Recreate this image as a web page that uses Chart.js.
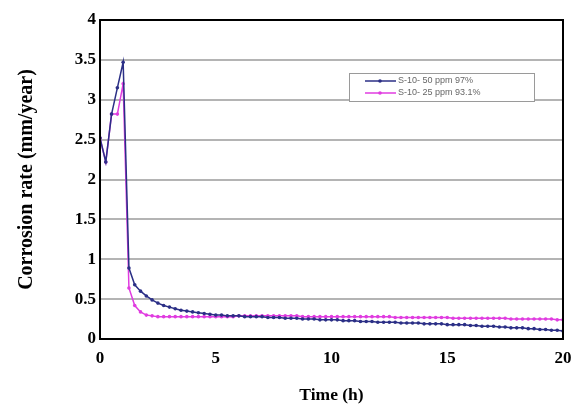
<!DOCTYPE html>
<html>
<head>
<meta charset="utf-8">
<script src="https://cdn.jsdelivr.net/npm/chart.js@4"></script>
<style>
html,body{margin:0;padding:0;background:#fff;}
#wrap{width:572px;height:407px;position:relative;}
</style>
</head>
<body>
<div id="wrap"><canvas id="c" width="572" height="407"></canvas></div>
<script>
const timeH = [0,0.25,0.5,0.75,1,1.25,1.5,1.75,2,2.25,2.5,2.75,3,3.25,3.5,3.75,4,4.25,4.5,4.75,5,
5.25,5.5,5.75,6,6.25,6.5,6.75,7,7.25,7.5,7.75,8,
8.25,8.5,8.75,9,9.25,9.5,9.75,10,10.25,10.5,10.75,11,11.25,11.5,11.75,12,
12.25,12.5,12.75,13,13.25,13.5,13.75,14,14.25,14.5,14.75,15,15.25,15.5,15.75,16,
16.25,16.5,16.75,17,17.25,17.5,17.75,18,18.25,18.5,18.75,19,19.25,19.5,19.75,20];

const s50 = [2.52,2.22,2.82,3.15,3.47,0.89,0.68,0.60,0.54,0.49,0.45,0.42,0.40,0.38,0.36,0.35,0.34,0.33,0.32,0.31,0.30,
0.30,0.29,0.29,0.29,0.28,0.28,0.28,0.28,0.27,0.27,0.27,0.26,
0.26,0.26,0.25,0.25,0.25,0.24,0.24,0.24,0.24,0.23,0.23,0.23,0.22,0.22,0.22,0.21,
0.21,0.21,0.21,0.20,0.20,0.20,0.20,0.19,0.19,0.19,0.19,0.18,0.18,0.18,0.18,0.17,
0.17,0.16,0.16,0.16,0.15,0.15,0.14,0.14,0.14,0.13,0.13,0.12,0.12,0.11,0.11,0.10];

const s25 = [2.52,2.22,2.82,2.82,3.20,0.64,0.42,0.34,0.30,0.29,0.28,0.28,0.28,
0.28,0.28,0.28,0.28,0.28,0.28,0.28,0.28,
0.28,0.28,0.28,0.29,0.29,0.29,0.29,0.29,0.29,0.29,0.29,0.29,
0.29,0.29,0.28,0.28,0.28,0.28,0.28,0.28,0.28,0.28,0.28,0.28,0.28,0.28,0.28,0.28,
0.28,0.28,0.27,0.27,0.27,0.27,0.27,0.27,0.27,0.27,0.27,0.27,0.26,0.26,0.26,0.26,
0.26,0.26,0.26,0.26,0.26,0.26,0.25,0.25,0.25,0.25,0.25,0.25,0.25,0.25,0.24,0.24];

const seriesLabels = ['S-10- 50 ppm 97%','S-10- 25 ppm 93.1%'];
const yTicks = [0,0.5,1,1.5,2,2.5,3,3.5,4];
const xTicks = [0,5,10,15,20];

const toXY = arr => arr.map((v,i)=>({x:timeH[i],y:v}));
const serif = '"Liberation Serif", "Times New Roman", serif';

const frame = {
  id:'frame',
  afterDraw(chart){
    const {ctx, chartArea:a} = chart;
    ctx.save();
    ctx.strokeStyle='#000';
    ctx.lineWidth=2;
    ctx.strokeRect(a.left,a.top,a.right-a.left,a.bottom-a.top);
    // legend box
    const bx=349, by=73, bw=185, bh=28;
    ctx.fillStyle='#fff';
    ctx.fillRect(bx,by,bw,bh);
    ctx.strokeStyle='#9a9a9a';
    ctx.lineWidth=1;
    ctx.strokeRect(bx+0.5,by+0.5,bw,bh);
    ctx.font='9px "Liberation Sans", Arial, sans-serif';
    ctx.textBaseline='middle';
    chart.data.datasets.forEach((ds,i)=>{
      const yy = by+8+i*12;
      ctx.strokeStyle=ds.borderColor;
      ctx.lineWidth=1.5;
      ctx.beginPath();ctx.moveTo(365,yy);ctx.lineTo(396,yy);ctx.stroke();
      ctx.fillStyle=ds.borderColor;
      ctx.beginPath();ctx.arc(380,yy,1.8,0,Math.PI*2);ctx.fill();
      ctx.fillStyle='#666';
      ctx.fillText(ds.label,398,yy);
    });
    ctx.restore();
  }
};

new Chart(document.getElementById('c'),{
  type:'line',
  data:{
    datasets:[
      {label:seriesLabels[0],data:toXY(s50),borderColor:'#2b2f86',backgroundColor:'#2b2f86',borderWidth:1.5,pointRadius:1.8,pointBorderWidth:0,tension:0},
      {label:seriesLabels[1],data:toXY(s25),borderColor:'#e03ce0',backgroundColor:'#e03ce0',borderWidth:1.5,pointRadius:1.8,pointBorderWidth:0,tension:0}
    ]
  },
  options:{
    responsive:false,
    animation:false,
    events:[],
    layout:{padding:{left:15,right:9,top:20,bottom:1}},
    plugins:{legend:{display:false},tooltip:{enabled:false}},
    scales:{
      x:{
        type:'linear',min:0,max:20,
        afterBuildTicks(s){s.ticks=xTicks.map(v=>({value:v}));},
        grid:{display:false,drawTicks:false},
        border:{display:false},
        ticks:{color:'#000',font:{family:serif,size:17,weight:'bold'},padding:9,maxRotation:0,callback:v=>String(v)},
        title:{display:true,text:'Time (h)',color:'#000',font:{family:serif,size:17.5,weight:'bold'},padding:{top:0,bottom:0}},
        afterFit(s){s.height=67;s.paddingRight=0;s.paddingLeft=0;}
      },
      y:{
        min:0,max:4,
        afterBuildTicks(s){s.ticks=yTicks.map(v=>({value:v}));},
        grid:{color:'#b4b4b4',lineWidth:2,drawTicks:false},
        border:{display:false},
        ticks:{color:'#000',font:{family:serif,size:17,weight:'bold'},padding:4,callback:v=>String(v)},
        title:{display:true,text:'Corrosion rate (mm/year)',color:'#000',font:{family:serif,size:20,weight:'bold'},padding:{top:0,bottom:0}},
        afterFit(s){s.width=85;s.paddingTop=0;s.paddingBottom=0;}
      }
    }
  },
  plugins:[frame]
});
</script>
</body>
</html>
